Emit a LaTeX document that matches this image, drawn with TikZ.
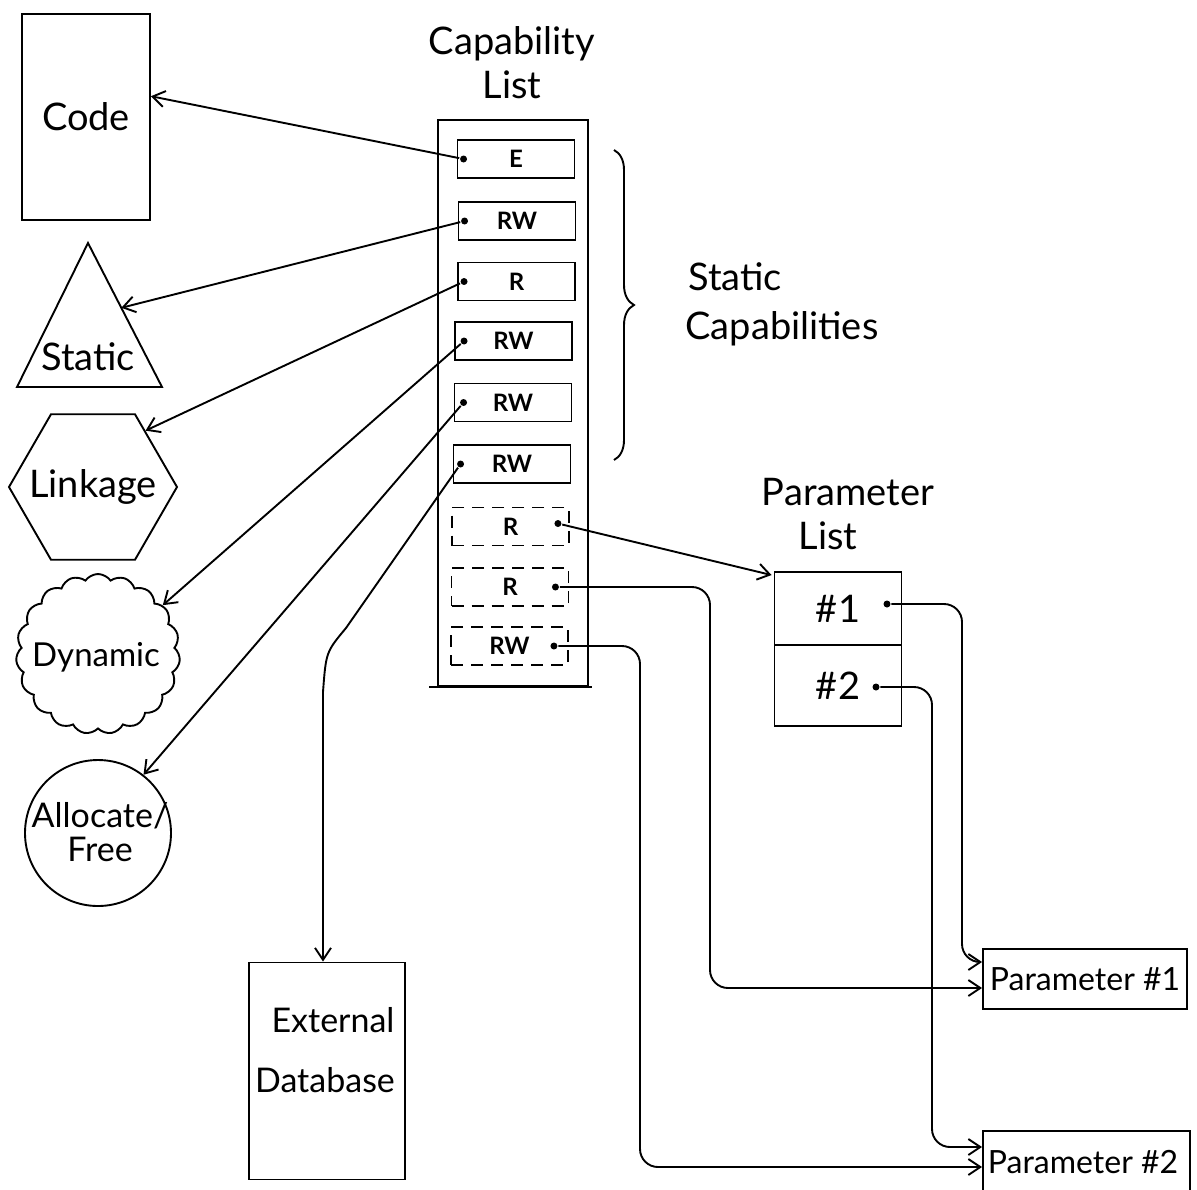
\documentclass[tikz,border=0pt]{standalone}
\usepackage{fontspec}
\setmainfont{Lato}
\usetikzlibrary{arrows.meta,shapes.geometric,shapes.symbols,decorations.pathreplacing,calc}

\begin{document}
\begin{tikzpicture}[x=0.5pt,y=-0.5pt,
  line width=0.95pt,
  big/.style={font=\fontsize{19}{22}\selectfont},
  mid/.style={font=\fontsize{16}{19}\selectfont},
  slot/.style={draw,minimum width=58.5pt,minimum height=19pt,inner sep=0pt,
               font=\fontsize{12}{14}\selectfont\bfseries},
  dslot/.style={slot,dash pattern=on 6pt off 4pt},
  dot/.style={circle,fill,inner sep=0pt,minimum size=3.5pt},
  arr/.style={-{Straight Barb[length=6pt,width=8pt]}},
  wire/.style={arr,rounded corners=9pt},
  box/.style={draw,inner sep=0pt}]

\path[use as bounding box] (0,0) rectangle (1197,1189);
\clip (0,0) rectangle (1197,1189);

% ---- objects on the left ----
\node[box,minimum width=64pt,minimum height=103pt,big] (code) at (86,117) {Code};

\coordinate (triTop) at (88,243);
\coordinate (triL) at (17,387);
\coordinate (triR) at (162,387);
\draw (triTop) -- (triR) -- (triL) -- cycle;
\node[big] (static) at (88,357) {Static};
\coordinate (triHit) at ($(triTop)!0.45!(triR)$);

\node[draw,regular polygon,regular polygon sides=6,minimum size=84pt,inner sep=0pt]
  (link) at (93,487) {};
\node[big] (linktext) at (93,487) {Linkage};

\node[draw,cloud,cloud puffs=19,cloud puff arc=110,aspect=1,
      minimum width=82pt,minimum height=80pt,inner sep=0pt] (dyn) at (98,654) {};
\node[font=\fontsize{16.5}{19}\selectfont] (dyntext) at (96,657) {Dynamic};

\node[draw,circle,minimum size=73pt,inner sep=0pt] (alloc) at (98,833) {};
\node[font=\fontsize{17}{19}\selectfont,align=center] (alloctext) at (100,832) {Allocate/\\[-2pt]Free};

\node[box,minimum width=78pt,minimum height=108.5pt] (db) at (327,1071) {};
\node[font=\fontsize{17}{20}\selectfont] (dbA) at (333,1020) {External};
\node[font=\fontsize{17}{20}\selectfont] (dbB) at (325,1080) {Database};

% ---- capability list ----
\node[big] (capT1) at (512,44) {Capability};
\node[big] (capT2) at (512,85) {List};
\node[box,minimum width=75pt,minimum height=283pt] (cap) at (513,403) {};
\draw ($(cap.south west)+(-8,0)$) -- ($(cap.south east)+(3,0)$);

\node[slot] (s1) at (516,159) {E};
\node[slot] (s2) at (517,221) {RW};
\node[slot] (s3) at (516.5,281.5) {R};
\node[slot] (s4) at (513.5,341) {RW};
\node[slot] (s5) at (513,402.5) {RW};
\node[slot] (s6) at (512,464) {RW};
\node[dslot] (s7) at (510.5,526.5) {R};
\node[dslot] (s8) at (510,587) {R};
\node[dslot] (s9) at (509.5,646) {RW};

\node[dot] (d1) at ($(s1.west)+(7,0)$) {};
\node[dot] (d2) at ($(s2.west)+(7,0)$) {};
\node[dot] (d3) at ($(s3.west)+(7,0)$) {};
\node[dot] (d4) at ($(s4.west)+(10,0)$) {};
\node[dot] (d5) at ($(s5.west)+(10,0)$) {};
\node[dot] (d6) at ($(s6.west)+(8,0)$) {};
\node[dot] (d7) at ($(s7.east)+(-12,-3)$) {};
\node[dot] (d8) at ($(s8.east)+(-14,0)$) {};
\node[dot] (d9) at ($(s9.east)+(-15,0)$) {};

% ---- brace and its label ----
\draw[decorate,decoration={brace,amplitude=10pt}] (614,150) -- (614,460);
\node[big] (stA) at (735,277) {Static};
\node[big] (stB) at (782,329) {Capabilities};

% ---- parameter list ----
\node[big] (parT1) at (848,492) {Parameter};
\node[big] (parT2) at (828,536) {List};
\node[box,minimum width=63.5pt,minimum height=36.5pt,big] (p1) at (838,608.5) {\#1};
\node[box,minimum width=63.5pt,minimum height=40.5pt,big] (p2) at (838,685.5) {\#2};
\node[dot] (q1) at (887,604) {};
\node[dot] (q2) at (876,687) {};

\node[box,minimum width=102pt,minimum height=30pt,mid] (pa1) at (1085,979) {Parameter \#1};
\node[box,minimum width=103.5pt,minimum height=35pt] (pa2) at (1086.5,1166) {};
\node[mid] (pa2text) at (1083,1162) {Parameter \#2};

% ---- connectors ----
\draw[arr] (d1) -- ($(code.north east)!0.40!(code.south east)$);
\draw[arr] (d2) -- (triHit);
\draw[arr] (d3) -- (link.47);
\draw[arr] (d4) -- (dyn.37);
\draw[arr] (d5) -- (alloc.52);
\draw[arr] (d6) -- (346,628) .. controls (326,652) .. (323,692) -- ([xshift=-2pt]db.north);
\draw[arr] (d7) -- ([xshift=-1pt,yshift=-2pt]p1.north west);
\draw[wire] (d8) -- (710,587) -- (710,988) -- ([yshift=-4.5pt]pa1.west);
\draw[wire] (d9) -- (640,646) -- (640,1167) -- ([yshift=-0.5pt]pa2.west);
\draw[wire] (q1) -- (962,604) -- (962,962) -- ([yshift=8.5pt]pa1.west);
\draw[wire] (q2) -- (932,687) -- (932,1147) -- ([yshift=9.5pt]pa2.west);

\end{tikzpicture}
\end{document}
